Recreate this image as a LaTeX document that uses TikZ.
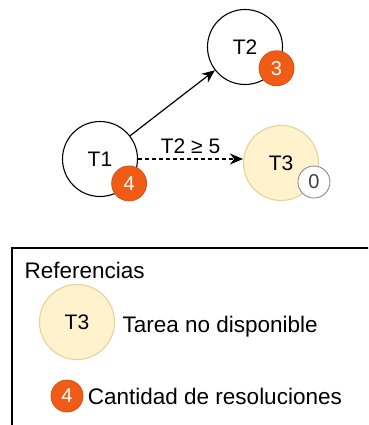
\documentclass[tikz,border=0pt]{standalone}
\usepackage{fontspec}
\setmainfont{Liberation Sans}
\usetikzlibrary{arrows.meta,positioning}

\definecolor{naranja}{RGB}{240,92,22}
\definecolor{naranjaborde}{RGB}{214,80,20}
\definecolor{amarillo}{RGB}{255,242,204}
\definecolor{amarilloborde}{RGB}{228,212,150}

\tikzset{
	tarea/.style={circle, draw=black, line width=1.1pt, minimum size=75pt, inner sep=0pt, font=\fontsize{21}{24}\selectfont},
	nodisp/.style={tarea, draw=amarilloborde, fill=amarillo},
	cant/.style={circle, draw=naranjaborde, fill=naranja, text=white, line width=0.8pt, minimum size=35pt, inner sep=0pt, font=\fontsize{20}{22}\selectfont},
	cero/.style={cant, draw=gray, fill=white, text=black!75, minimum size=32pt},
	texto/.style={font=\fontsize{22.5}{26}\selectfont}
}

\begin{document}
\begin{tikzpicture}[x=1pt, y=-1pt]
	\clip (0,0) rectangle (368,425);
	\fill[white] (0,0) rectangle (368,425);

	\node(T1) [tarea] at (100,159) {T1};
	\node(T2) [tarea] at (245,47) {T2};
	\node(T3) [nodisp] at (281,163) {T3};
	\node(c1) [cant] at (T1.-40) {4};
	\node(c2) [cant] at (T2.-34) {3};
	\node(c3) [cero] at (T3.-30) {0};

	\draw[line width=1.2pt, -{Stealth[length=13pt, width=11pt]}] (T1) -- (T2);
	\draw[line width=1.2pt, dash pattern=on 4pt off 3pt, -{Stealth[length=13pt, width=11pt]}] (T1.east) -- node[above=1pt, font=\fontsize{21}{24}\selectfont] {T2 ≥ 5} (T3.west |- T1.east);

	\draw[line width=1.1pt] (12,248) rectangle (390,450);
	\node(ref) [texto, anchor=west] at (21,270) {Referencias};
	\node(legT3) [nodisp] at (77,322) {T3};
	\node(legtxt) [texto, anchor=west] at (119,327) {Tarea no disponible};
	\node(legcant) [cant, minimum size=32pt] at (67,396) {4};
	\node(cantxt) [texto, right=1pt of legcant] {Cantidad de resoluciones};
\end{tikzpicture}
\end{document}
